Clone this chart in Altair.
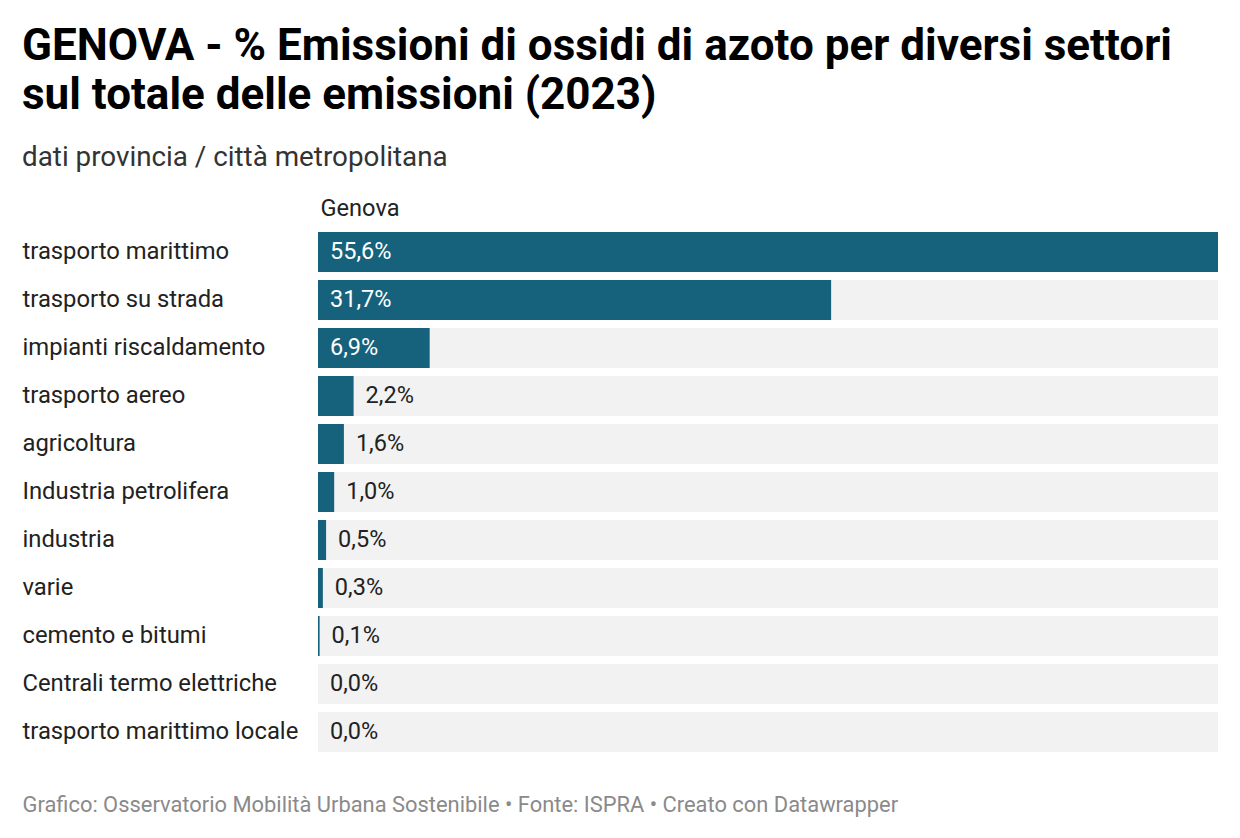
import altair as alt
import pandas as pd

categories = [
    "trasporto marittimo",
    "trasporto su strada",
    "impianti riscaldamento",
    "trasporto aereo",
    "agricoltura",
    "Industria petrolifera",
    "industria",
    "varie",
    "cemento e bitumi",
    "Centrali termo elettriche",
    "trasporto marittimo locale",
]
values = [55.6, 31.7, 6.9, 2.2, 1.6, 1.0, 0.5, 0.3, 0.1, 0.0, 0.0]

title_lines = [
    "GENOVA - % Emissioni di ossidi di azoto per diversi settori",
    "sul totale delle emissioni (2023)",
]
subtitle = "dati provincia / città metropolitana"
column_header = "Genova"
footer = "Grafico: Osservatorio Mobilità Urbana Sostenibile • Fonte: ISPRA • Creato con Datawrapper"

df = pd.DataFrame({"category": categories, "value": values})

BAR = "#16627c"
BG = "#f2f2f2"
TXT = "#222222"
FONT = "Roboto"

base = alt.Chart(df).transform_joinaggregate(
    total="max(value)"
).transform_calculate(
    label="replace(format(datum.value, '.1f'), '.', ',') + '%'"
)

y = alt.Y(
    "category:N",
    sort=categories,
    scale=alt.Scale(paddingInner=1 / 6, paddingOuter=1 / 12),
    axis=alt.Axis(
        title=None,
        domain=False,
        ticks=False,
        grid=False,
        labelAlign="left",
        labelPadding=296,
        labelFontSize=23.8,
        labelFont=FONT,
        labelColor=TXT,
        labelLimit=320,
    ),
)

xscale = alt.Scale(nice=False, zero=True)

bg = base.mark_bar(color=BG).encode(
    y=y,
    x=alt.X(
        "total:Q",
        scale=xscale,
        axis=alt.Axis(
            orient="bottom",
            labels=False,
            ticks=False,
            domain=False,
            grid=False,
            title=footer,
            titleX=-296,
            titleY=48,
            titleAlign="left",
            titleAnchor="start",
            titleBaseline="middle",
            titleFontSize=21.9,
            titleFontWeight="normal",
            titleFont=FONT,
            titleColor="#8a8a8a",
        ),
    ),
)

bars = base.mark_bar(color=BAR).encode(
    y=y,
    x=alt.X(
        "value:Q",
        scale=xscale,
        axis=alt.Axis(
            orient="top",
            labels=False,
            ticks=False,
            domain=False,
            grid=False,
            title=column_header,
            titleX=2,
            titleY=-20,
            titleAlign="left",
            titleAnchor="start",
            titleBaseline="middle",
            titleFontSize=23.6,
            titleFontWeight="normal",
            titleFont=FONT,
            titleColor=TXT,
        ),
    ),
)

inside = base.transform_filter("datum.value >= 5").mark_text(
    align="left", baseline="middle", dx=12, color="white", fontSize=23.5, font=FONT
).encode(
    y=y,
    x=alt.XDatum(0, type="quantitative", axis=None),
    text="label:N",
)

outside = base.transform_filter("datum.value < 5").mark_text(
    align="left", baseline="middle", dx=12, color=TXT, fontSize=23.5, font=FONT
).encode(
    y=y,
    x=alt.X("value:Q", axis=None),
    text="label:N",
)

chart = (
    alt.layer(bg, bars, inside, outside)
    .resolve_axis(x="independent")
    .properties(
        width=900,
        height=528,
        background="white",
        padding={"left": 14, "top": 17, "right": 10, "bottom": 10},
        title=alt.TitleParams(
            text=title_lines,
            subtitle=subtitle,
            anchor="start",
            font=FONT,
            fontSize=44,
            fontWeight="bold",
            color="#000000",
            lineHeight=49,
            subtitleFont=FONT,
            subtitleFontSize=27.8,
            subtitleColor="#333333",
            subtitlePadding=26,
            offset=24,
        ),
    )
    .configure_view(strokeWidth=0, stroke=None)
)

chart.save("out.html", embed_options={"renderer": "svg", "actions": False})
